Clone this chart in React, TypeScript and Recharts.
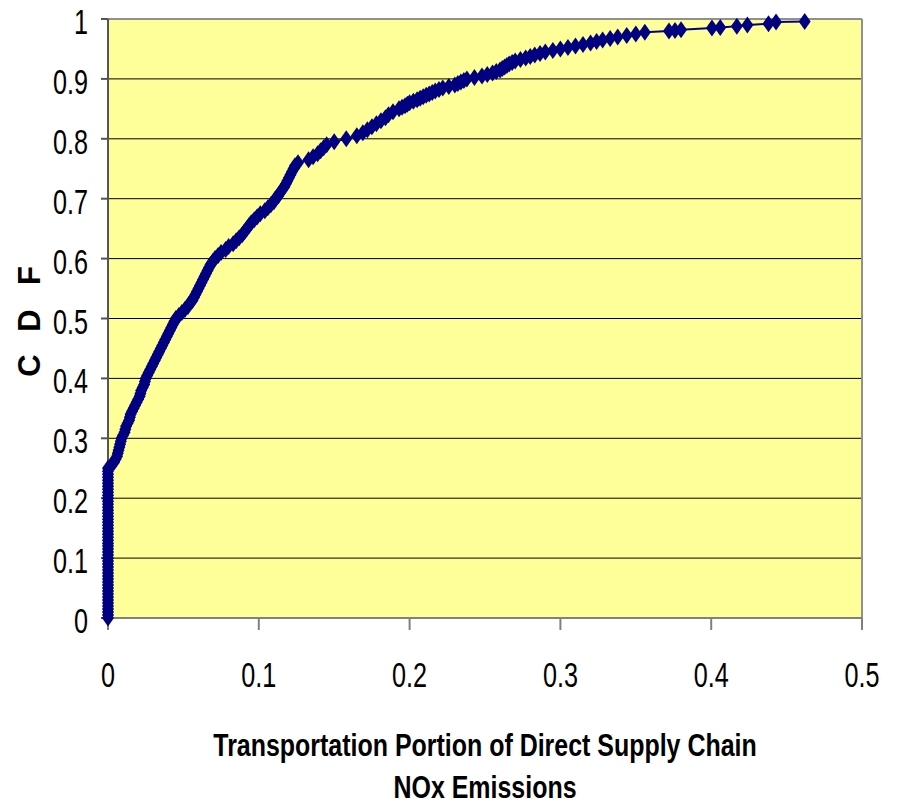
import React from "react";
import {
  CartesianGrid,
  Line,
  LineChart,
  ReferenceLine,
  XAxis,
  YAxis,
} from "recharts";

// CDF of the transportation share of direct supply-chain NOx emissions.
// Values.

const cdfX = [
  // the ~25% of chains with no transport share
  0, 0, 0, 0, 0, 0, 0, 0, 0, 0, 0, 0, 0, 0, 0, 0, 0, 0, 0, 0, 0, 0, 0, 0, 0, 0,
  0, 0, 0, 0, 0, 0, 0, 0, 0, 0, 0, 0, 0, 0, 0, 0, 0, 0, 0, 0, 0, 0, 0, 0, 0,
  0.002, 0.004, 0.005, 0.006, 0.0065, 0.007, 0.0075, 0.008, 0.0085, 0.009,
  0.01, 0.011, 0.0115, 0.012, 0.013, 0.014, 0.0145, 0.015, 0.016, 0.017,
  0.018, 0.019, 0.02, 0.021, 0.0215, 0.022, 0.023, 0.024, 0.0245, 0.025,
  0.026, 0.027, 0.028, 0.029, 0.03, 0.031, 0.032, 0.033, 0.034, 0.035,
  0.036, 0.037, 0.038, 0.039, 0.04, 0.041, 0.042, 0.043, 0.044, 0.045,
  0.047, 0.049, 0.051, 0.053, 0.054, 0.056, 0.057, 0.058, 0.059, 0.06,
  0.061, 0.062, 0.063, 0.064, 0.065, 0.066, 0.067, 0.068, 0.0695, 0.071,
  0.073, 0.075, 0.078, 0.08, 0.083, 0.085, 0.087, 0.089, 0.0905, 0.092,
  0.0935, 0.095, 0.097, 0.099, 0.101, 0.104, 0.106, 0.108, 0.11, 0.111,
  0.113, 0.114, 0.1155, 0.117, 0.118, 0.119, 0.12, 0.121, 0.122, 0.123,
  0.124, 0.126, 0.133, 0.136, 0.139, 0.141, 0.143, 0.145, 0.15, 0.158,
  0.165, 0.169, 0.172, 0.175, 0.178, 0.181, 0.184, 0.186, 0.189, 0.193,
  0.195, 0.197, 0.1985, 0.2, 0.2025, 0.205, 0.207, 0.209, 0.211, 0.213,
  0.215, 0.217, 0.2195, 0.222, 0.226, 0.23, 0.232, 0.234, 0.236, 0.238,
  0.243, 0.248, 0.2515, 0.255, 0.2575, 0.26, 0.2615, 0.263, 0.2645, 0.266,
  0.268, 0.27, 0.2735, 0.277, 0.28, 0.283, 0.2865, 0.29, 0.295, 0.3,
  0.305, 0.31, 0.315, 0.32, 0.324, 0.328, 0.333, 0.338, 0.344, 0.35,
  0.356, 0.372, 0.376, 0.38, 0.4005, 0.406, 0.417, 0.424, 0.438, 0.443,
  0.462,
];

const cdfY = [
  0, 0.005, 0.01, 0.015, 0.02, 0.025, 0.03, 0.035, 0.04, 0.045, 0.05, 0.055,
  0.06, 0.065, 0.07, 0.075, 0.08, 0.085, 0.09, 0.095, 0.1, 0.105, 0.11, 0.115,
  0.12, 0.125, 0.13, 0.135, 0.14, 0.145, 0.15, 0.155, 0.16, 0.165, 0.17,
  0.175, 0.18, 0.185, 0.19, 0.195, 0.2, 0.205, 0.21, 0.215, 0.22, 0.225,
  0.23, 0.235, 0.24, 0.245, 0.25,
  0.255, 0.26, 0.265, 0.27, 0.275, 0.28, 0.285, 0.29, 0.295, 0.3,
  0.305, 0.31, 0.315, 0.32, 0.325, 0.33, 0.335, 0.34, 0.345, 0.35,
  0.355, 0.36, 0.365, 0.37, 0.375, 0.38, 0.385, 0.39, 0.395, 0.4,
  0.405, 0.41, 0.415, 0.42, 0.425, 0.43, 0.435, 0.44, 0.445, 0.45,
  0.455, 0.46, 0.465, 0.47, 0.475, 0.48, 0.485, 0.49, 0.495, 0.5,
  0.505, 0.51, 0.515, 0.52, 0.525, 0.53, 0.535, 0.54, 0.545, 0.55,
  0.555, 0.56, 0.565, 0.57, 0.575, 0.58, 0.585, 0.59, 0.595, 0.6,
  0.605, 0.61, 0.615, 0.62, 0.625, 0.63, 0.635, 0.64, 0.645, 0.65,
  0.655, 0.66, 0.665, 0.67, 0.675, 0.68, 0.685, 0.69, 0.695, 0.7,
  0.705, 0.71, 0.715, 0.72, 0.725, 0.73, 0.735, 0.74, 0.745, 0.75,
  0.755, 0.76, 0.765, 0.77, 0.775, 0.78, 0.785, 0.79, 0.795, 0.8,
  0.805, 0.81, 0.815, 0.82, 0.825, 0.83, 0.835, 0.84, 0.845, 0.85,
  0.8525, 0.855, 0.8575, 0.86, 0.8625, 0.865, 0.8675, 0.87, 0.8725, 0.875,
  0.8775, 0.88, 0.8825, 0.885, 0.8875, 0.89, 0.8925, 0.895, 0.8975, 0.9,
  0.9025, 0.905, 0.9075, 0.91, 0.9125, 0.915, 0.9175, 0.92, 0.9225, 0.925,
  0.9275, 0.93, 0.9325, 0.935, 0.9375, 0.94, 0.9425, 0.945, 0.9475, 0.95,
  0.9525, 0.955, 0.9575, 0.96, 0.9625, 0.965, 0.9675, 0.97, 0.9725, 0.975,
  0.978, 0.98, 0.981, 0.982, 0.985, 0.986, 0.988, 0.99, 0.992, 0.995,
  0.996,
];

const xTicks = [0, 0.1, 0.2, 0.3, 0.4, 0.5];
const yTicks = [0, 0.1, 0.2, 0.3, 0.4, 0.5, 0.6, 0.7, 0.8, 0.9, 1];

const xTitle = ["Transportation Portion of Direct Supply Chain", "NOx Emissions"];
const yTitle = ["C", "D", "F"];

const data = cdfX.map((x, i) => ({ x, y: cdfY[i] }));

// no narrow font installed, so Liberation Sans is squeezed horizontally
const FONT = '"Liberation Sans", Arial, sans-serif';
const NAVY = "#000080";

function Diamond(props: any) {
  const { cx, cy, index } = props;
  if (cx == null || cy == null) return null;
  const w = 6;
  const h = 8.5;
  return (
    <polygon
      key={`d-${index}`}
      points={`${cx},${cy - h} ${cx + w},${cy} ${cx},${cy + h} ${cx - w},${cy}`}
      fill={NAVY}
      stroke="none"
    />
  );
}

function XTick(props: any) {
  const { x, y, payload } = props;
  return (
    <g transform={`translate(${x},${y + 57}) scale(0.7,1)`}>
      <text x={0} y={0} textAnchor="middle" fontFamily={FONT} fontSize={36} fill="#000">
        {payload.value}
      </text>
    </g>
  );
}

function YTick(props: any) {
  const { x, y, payload } = props;
  return (
    <g transform={`translate(${x - 13},${y + 15}) scale(0.7,1)`}>
      <text x={0} y={0} textAnchor="end" fontFamily={FONT} fontSize={36} fill="#000">
        {payload.value}
      </text>
    </g>
  );
}

export default function App() {
  return (
    <div style={{ position: "absolute", left: 0, top: 0, width: 897, height: 805, background: "#fff" }}>
      <LineChart
        width={897}
        height={805}
        data={data}
        margin={{ top: 19, right: 35, bottom: 0, left: 0 }}
      >
        <CartesianGrid vertical={false} stroke="#000" strokeOpacity={1} fill="#FFFF99" fillOpacity={1} />
        <XAxis
          type="number"
          dataKey="x"
          domain={[0, 0.5]}
          ticks={xTicks}
          height={187}
          tickSize={12}
          tickMargin={0}
          stroke="#808080"
          strokeWidth={2}
          tick={<XTick />}
          label={{
            content: (p: any) => {
              const vb = p.viewBox;
              const cx = vb.x + vb.width / 2;
              return (
                <g>
                  {xTitle.map((t, i) => (
                    <g key={t} transform={`translate(${cx},${vb.y + 138 + i * 42}) scale(0.78,1)`}>
                      <text
                        x={0}
                        y={0}
                        textAnchor="middle"
                        fontFamily={FONT}
                        fontWeight="bold"
                        fontSize={32}
                        fill="#000"
                      >
                        {t}
                      </text>
                    </g>
                  ))}
                </g>
              );
            },
          }}
        />
        <YAxis
          type="number"
          dataKey="y"
          domain={[0, 1]}
          ticks={yTicks}
          width={108}
          tickSize={7}
          tickMargin={0}
          stroke="#555"
          strokeWidth={2}
          tick={<YTick />}
          label={{
            content: (p: any) => {
              const vb = p.viewBox;
              const cy = vb.y + vb.height / 2 + 2;
              return (
                <g transform={`translate(40,${cy}) rotate(-90)`}>
                  {yTitle.map((ch, i) => (
                    <text
                      key={ch}
                      x={(i - 1) * 45}
                      y={0}
                      textAnchor="middle"
                      fontFamily={FONT}
                      fontWeight="bold"
                      fontSize={31}
                      fill="#000"
                    >
                      {ch}
                    </text>
                  ))}
                </g>
              );
            },
          }}
        />
        <ReferenceLine y={1} stroke="#909090" strokeWidth={2} />
        <ReferenceLine x={0.5} stroke="#909090" strokeWidth={2} />
        <Line
          type="linear"
          dataKey="y"
          stroke={NAVY}
          strokeWidth={2}
          dot={<Diamond />}
          activeDot={false}
          isAnimationActive={false}
        />
      </LineChart>
    </div>
  );
}
